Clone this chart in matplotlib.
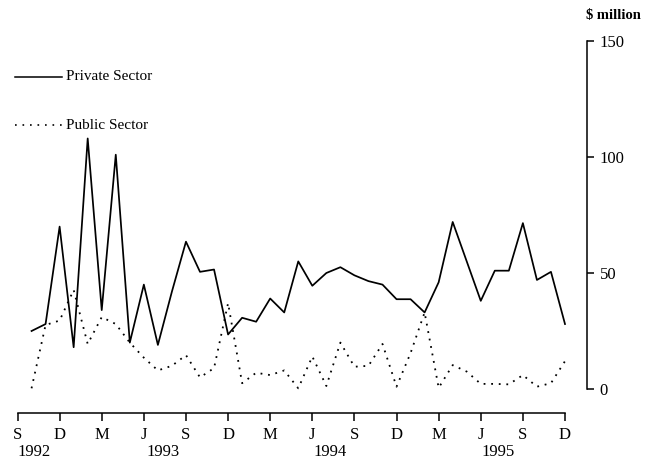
import matplotlib
matplotlib.use("Agg")
import matplotlib.pyplot as plt
import numpy as np

# Month index: 0 = Sep 1992 ... 39 = Dec 1995 ; data Oct 1992 - Dec 1995
month_index = list(range(1, 40))
private_sector = [25, 28, 70, 18, 108, 34, 101, 20, 45, 19,
                  42, 63.5, 50.5, 51.5, 23.5, 30.7, 29, 39, 33, 55,
                  44.5, 50, 52.5, 49, 46.5, 45, 38.7, 38.7, 33, 46,
                  72, 55, 38, 51, 51, 71.5, 47, 50.5, 28]
public_sector = [0.3, 27.6, 29.5, 42.7, 19.4, 31, 28, 20, 13.5, 8,
                 10, 14.6, 5, 9, 37, 2.5, 7, 6, 8, 0.3,
                 14, 1.3, 20, 9.6, 10, 19.4, 1, 15.5, 33, 0.5,
                 10.3, 7.5, 2.2, 2.2, 2, 6, 1, 2.5, 12]
tick_positions = list(range(0, 40, 3))
tick_labels = ["S", "D", "M", "J", "S", "D", "M", "J", "S", "D", "M", "J", "S", "D"]
year_labels = ["1992", "1993", "1994", "1995"]
year_positions = [1.2, 10.4, 22.3, 34.2]
y_ticks = [0, 50, 100, 150]

plt.rcParams['font.family'] = ['Liberation Serif', 'DejaVu Serif']

W, H = 657, 461
fig = plt.figure(figsize=(W / 100, H / 100), dpi=100)
left_px, right_px = 17.5, 565
bottom_px, top_px = 389, 41
ax = fig.add_axes([left_px / W, 1 - bottom_px / H,
                   (right_px - left_px) / W, (bottom_px - top_px) / H])
ax.set_xlim(0, 39)
ax.set_ylim(0, 150)

ax.plot(month_index, private_sector, color='black', lw=1.25, clip_on=False)
ax.plot(month_index, public_sector, color='black', lw=1.3,
        linestyle=(0, (1, 3.2)), clip_on=False)

for s in ['top', 'left']:
    ax.spines[s].set_visible(False)

# right axis
ax.spines['right'].set_position(('axes', (587 - left_px) / (right_px - left_px)))
ax.spines['right'].set_bounds(0, 150)
ax.spines['right'].set_linewidth(1.1)
ax.yaxis.tick_right()
ax.set_yticks(y_ticks)
ax.set_yticklabels([str(v) for v in y_ticks])
ax.tick_params(axis='y', direction='out', length=5, width=1.1, pad=4, labelsize=12)

# bottom axis
ax.spines['bottom'].set_position(('outward', 17))
ax.spines['bottom'].set_linewidth(1.1)
ax.set_xticks(tick_positions)
ax.set_xticklabels(tick_labels)
ax.tick_params(axis='x', direction='out', length=6, width=1.1, pad=4, labelsize=12)

for lab, xp in zip(year_labels, year_positions):
    fig.text((left_px + xp * (right_px - left_px) / 39) / W, 1 - 452 / H, lab,
             ha='center', va='center', fontsize=12)

fig.text(586 / W, 1 - 16 / H, "$ million", ha='left', va='center',
         fontsize=10.5, fontweight='bold')

# legend
fig.add_artist(plt.Line2D([15 / W, 62 / W], [1 - 77 / H, 1 - 77 / H], color='black', lw=1.1))
fig.text(66 / W, 1 - 77 / H, "Private Sector", ha='left', va='center', fontsize=11)
fig.add_artist(plt.Line2D([15 / W, 62 / W], [1 - 125 / H, 1 - 125 / H], color='black',
                          lw=1.2, linestyle=(0, (1, 3.5))))
fig.text(66 / W, 1 - 125 / H, "Public Sector", ha='left', va='center', fontsize=11)

fig.savefig("out.png", dpi=100)
